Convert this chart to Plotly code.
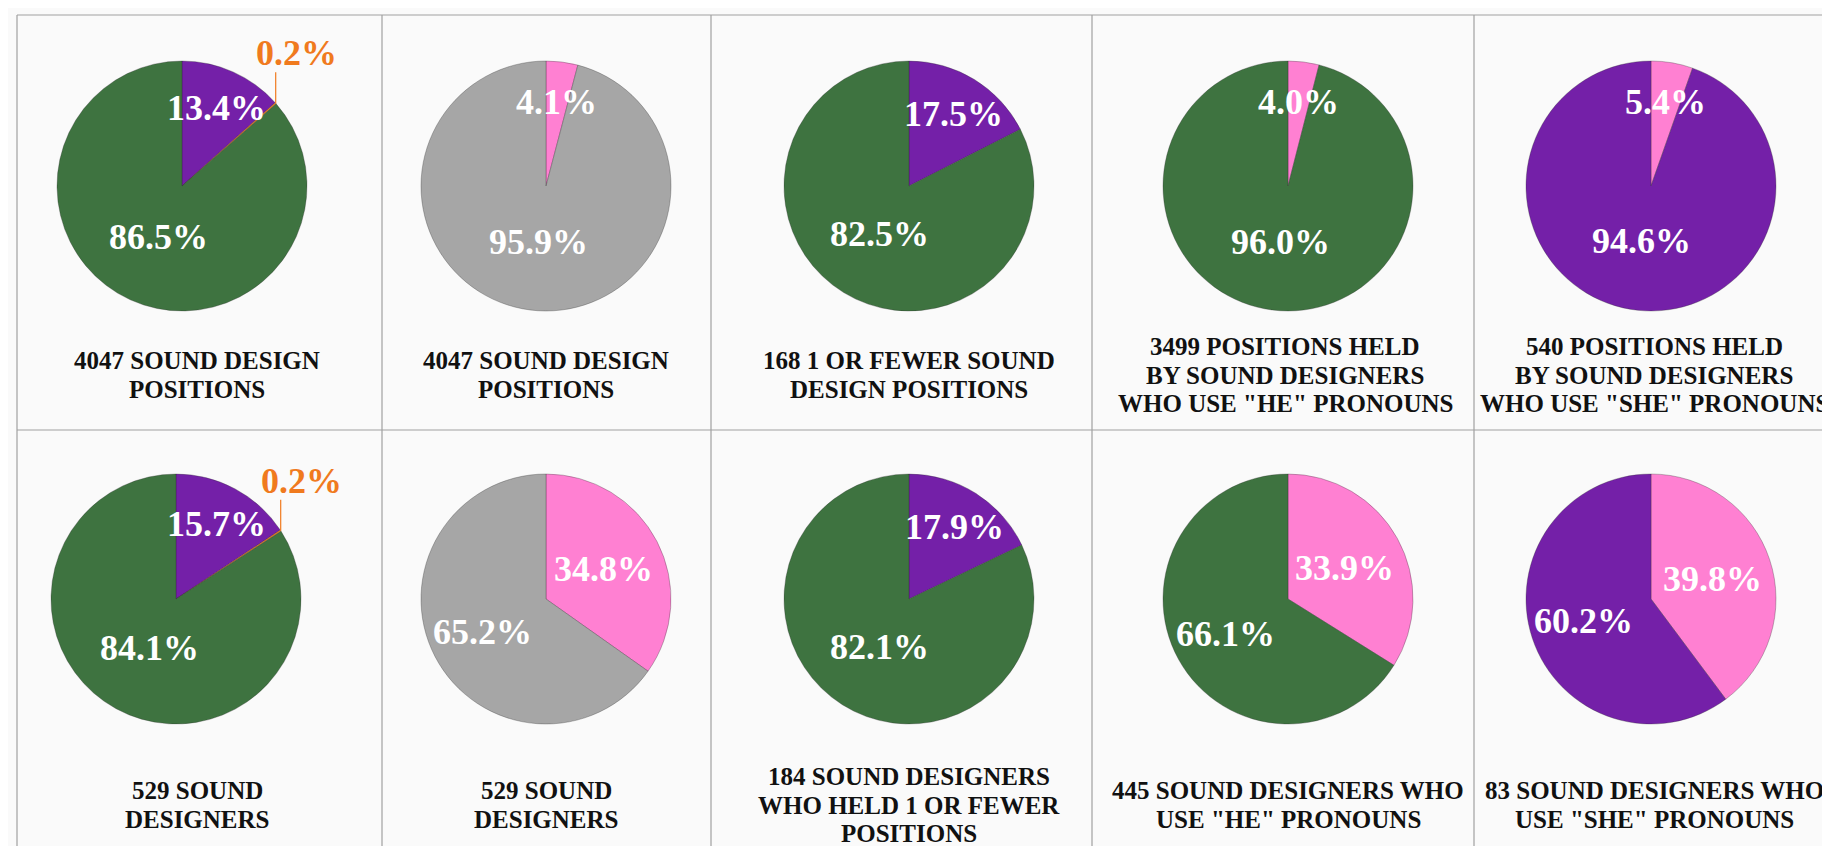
import math
import plotly.graph_objects as go

W, H = 1830, 846

# ---------------- data ----------------
pie_titles = [
    ["4047 SOUND DESIGN", "POSITIONS"],
    ["4047 SOUND DESIGN", "POSITIONS"],
    ["168 1 OR FEWER SOUND", "DESIGN POSITIONS"],
    ["3499 POSITIONS HELD", "BY SOUND DESIGNERS", 'WHO USE "HE" PRONOUNS'],
    ["540 POSITIONS HELD", "BY SOUND DESIGNERS", 'WHO USE "SHE" PRONOUNS'],
    ["529 SOUND", "DESIGNERS"],
    ["529 SOUND", "DESIGNERS"],
    ["184 SOUND DESIGNERS", "WHO HELD 1 OR FEWER", "POSITIONS"],
    ["445 SOUND DESIGNERS WHO", 'USE "HE" PRONOUNS'],
    ["83 SOUND DESIGNERS WHO", 'USE "SHE" PRONOUNS'],
]
pie_categories = [
    ["She", "They", "He"],
    ["1 or fewer positions", "More than 1 position"],
    ["She", "He"],
    ["1 or fewer positions", "He (more than 1)"],
    ["1 or fewer positions", "She (more than 1)"],
    ["She", "They", "He"],
    ["1 or fewer positions", "More than 1 position"],
    ["She", "He"],
    ["1 or fewer positions", "He (more than 1)"],
    ["1 or fewer positions", "She (more than 1)"],
]
pie_values = [
    [13.4, 0.2, 86.5],
    [4.1, 95.9],
    [17.5, 82.5],
    [4.0, 96.0],
    [5.4, 94.6],
    [15.7, 0.2, 84.1],
    [34.8, 65.2],
    [17.9, 82.1],
    [33.9, 66.1],
    [39.8, 60.2],
]

# ---------------- style ----------------
GREEN = "#3e7340"
PURPLE = "#7420a8"
PINK = "#ff80d2"
GRAY = "#a6a6a6"
ORANGE = "#f07a1e"
cat_colors = {
    "She": PURPLE, "They": ORANGE, "He": GREEN,
    "1 or fewer positions": PINK, "More than 1 position": GRAY,
    "She (more than 1)": PURPLE, "He (more than 1)": GREEN,
}
outside_cats = {"They"}

FONT = "Liberation Serif"
R = 125
centers_x = [[174, 538, 901, 1280, 1643], [168, 538, 901, 1280, 1643]]
centers_y = [178, 591]
title_x = [[189, 538, 901, 1277, 1646], [189, 538, 901, 1280, 1646]]
title_mid_y = [367, 797]
LINE_PITCH = 28.3


def label_dist(frac):
    """radial placement of a percentage label (fraction of radius) by slice size"""
    if frac < 0.25:
        return 0.68
    if frac <= 0.5:
        return 0.52
    if frac < 0.8:
        return 0.57
    return 0.45


v_lines = [9, 374, 703, 1084, 1466]
h_lines = [7, 422]


def px(x):
    return x / W


def py(y):
    return 1 - y / H


fig = go.Figure()
annotations = []
shapes = []

for i, (cats, vals, title) in enumerate(zip(pie_categories, pie_values, pie_titles)):
    row, col = divmod(i, 5)
    cx, cy = centers_x[row][col], centers_y[row]
    fig.add_trace(go.Pie(
        labels=cats, values=vals, textinfo="none",
        sort=False, direction="clockwise", rotation=0,
        marker=dict(colors=[cat_colors[c] for c in cats],
                    line=dict(color="rgba(40,40,40,0.5)", width=0.6)),
        domain=dict(x=[px(cx - R), px(cx + R)], y=[py(cy + R), py(cy - R)]),
        showlegend=False, hoverinfo="label+value",
    ))
    total = sum(vals)
    cum = 0.0
    for c, v in zip(cats, vals):
        frac = v / total
        theta = 2 * math.pi * (cum + v / 2) / total
        s, co = math.sin(theta), math.cos(theta)
        if c in outside_cats:
            ex, ey = cx + R * s, cy - R * co
            shapes.append(dict(type="line", xref="paper", yref="paper",
                               x0=px(ex), y0=py(ey), x1=px(ex), y1=py(ey - 31),
                               line=dict(color=ORANGE, width=1.2)))
            annotations.append(dict(
                text=f"{v:.1f}%", xref="paper", yref="paper",
                x=px(ex + 21), y=py(ey - 50), xanchor="center", yanchor="middle",
                showarrow=False,
                font=dict(family=FONT, size=36, color=ORANGE, weight="bold")))
        else:
            d = label_dist(frac) * R
            annotations.append(dict(
                text=f"{v:.1f}%", xref="paper", yref="paper",
                x=px(cx + d * s), y=py(cy - d * co), xanchor="center", yanchor="middle",
                showarrow=False,
                font=dict(family=FONT, size=36, color="white", weight="bold")))
        cum += v
    n = len(title)
    for k, line in enumerate(title):
        yy = title_mid_y[row] + (k - (n - 1) / 2) * LINE_PITCH
        annotations.append(dict(
            text=line, xref="paper", yref="paper",
            x=px(title_x[row][col]), y=py(yy), xanchor="center", yanchor="middle",
            showarrow=False,
            font=dict(family=FONT, size=25, color="#111111", weight="bold")))

for x in v_lines:
    shapes.append(dict(type="line", xref="paper", yref="paper",
                       x0=px(x), x1=px(x), y0=py(h_lines[0]), y1=0,
                       line=dict(color="#a0a0a0", width=1.2), layer="below"))
for y in h_lines:
    shapes.append(dict(type="line", xref="paper", yref="paper",
                       x0=px(v_lines[0]), x1=1, y0=py(y), y1=py(y),
                       line=dict(color="#a0a0a0", width=1.2), layer="below"))

fig.update_layout(
    width=W, height=H,
    margin=dict(l=0, r=0, t=0, b=0),
    paper_bgcolor="#fafafa", plot_bgcolor="#fafafa",
    annotations=annotations, shapes=shapes,
)

fig.write_html("out.html", config={"displayModeBar": False})
